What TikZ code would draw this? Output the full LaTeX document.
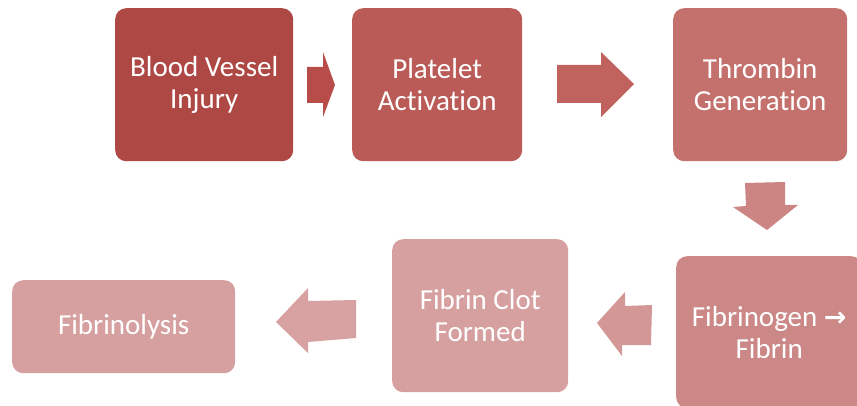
\documentclass[tikz,border=0pt]{standalone}
\usepackage{fontspec}
\setmainfont{Carlito}[Ligatures={NoCommon}]
\newfontfamily\symfont{DejaVu Sans}
\definecolor{cA}{HTML}{AE4845}
\definecolor{cB}{HTML}{BA5B58}
\definecolor{cC}{HTML}{C4716E}
\definecolor{cD}{HTML}{CB8886}
\definecolor{cE}{HTML}{D7A0A0}
\definecolor{aA}{HTML}{B84C49}
\definecolor{aB}{HTML}{C0635F}
\definecolor{aC}{HTML}{CC8583}
\definecolor{aD}{HTML}{D39896}
\definecolor{aE}{HTML}{D7A2A1}
\begin{document}
\begin{tikzpicture}[x=1pt,y=-1pt,
  stepbox/.style={rectangle,rounded corners=11pt,text=white,align=center,
    font=\fontsize{29}{32}\selectfont,inner sep=0pt,anchor=north west}]
\useasboundingbox (0,0) rectangle (857,406);
\clip (0,0) rectangle (857,406);
\node[stepbox,fill=cA,minimum width=178pt,minimum height=153pt] (b1) at (115,8) {Blood Vessel\\Injury};
\node[stepbox,fill=cB,minimum width=170pt,minimum height=153pt] (b2) at (352,8) {Platelet\\Activation};
\node[stepbox,fill=cC,minimum width=174pt,minimum height=153pt] (b3) at (673,8) {Thrombin\\Generation};
\node[stepbox,fill=cD,minimum width=186pt,minimum height=152pt] (b4) at (676,256) {Fibrinogen {\fontsize{27}{32}\selectfont\symfont\bfseries→}\\Fibrin};
\node[stepbox,fill=cE,minimum width=176pt,minimum height=153pt] (b5) at (392,239) {Fibrin Clot\\Formed};
\node[stepbox,fill=cE,minimum width=223pt,minimum height=93pt] (b6) at (12,280) {Fibrinolysis};
% block arrows
\fill[aA] (307,67) -- (323,67) -- (323,52) -- (335,85) -- (323,117) -- (323,103) -- (307,103) -- cycle;
\fill[aB] (557,65) -- (601,65) -- (601,52) -- (634,84) -- (601,117) -- (601,103) -- (557,103) -- cycle;
\fill[aC] (745,183) -- (785,182) -- (785,205) -- (798,205) -- (767,230) -- (733,207) -- (746,206) -- cycle;
\fill[aD] (652,305) -- (625,306) -- (625,292) -- (597,323) -- (622,356) -- (622,345) -- (651,345) -- cycle;
\fill[aE] (356,300) -- (308,301) -- (308,288) -- (276,322) -- (308,353) -- (308,342) -- (356,338) -- cycle;
\end{tikzpicture}
\end{document}
